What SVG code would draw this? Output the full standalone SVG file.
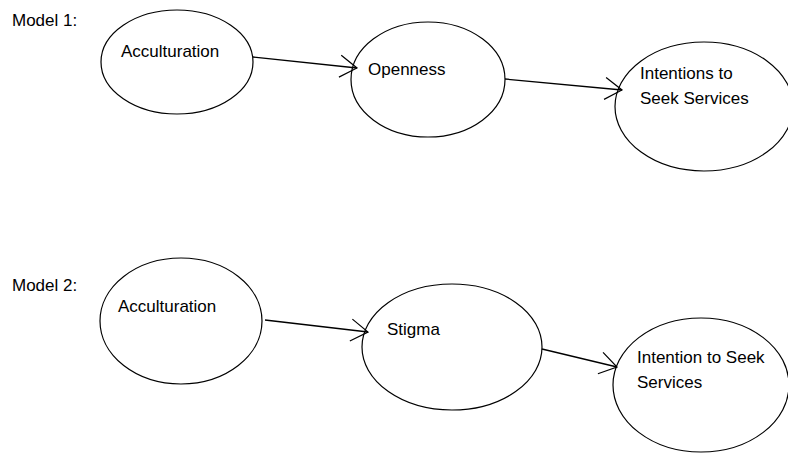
<svg xmlns="http://www.w3.org/2000/svg" width="788" height="453" viewBox="0 0 788 453">
<defs>
<style>
.node ellipse{fill:#fff;stroke:#000;stroke-width:1.2}
text{font-family:"Liberation Sans",Arial,sans-serif;font-size:17px;fill:#000}
.edge{stroke:#000;stroke-width:1.3;fill:none;marker-end:url(#open)}
</style>
<marker id="open" markerUnits="userSpaceOnUse" markerWidth="24" markerHeight="28" refX="0" refY="0" viewBox="-20 -14 24 28" orient="auto">
<path d="M -17 -11 L 0 0 L -17 11" fill="none" stroke="#000" stroke-width="1.2"/>
</marker>
</defs>
<rect width="788" height="453" fill="#fff"/>
<text x="12" y="26">Model 1:</text>
<text x="12" y="291">Model 2:</text>
<g id="n1-acculturation" class="node">
<ellipse cx="177" cy="62" rx="76" ry="52"/>
<text x="121" y="57">Acculturation</text>
</g>
<g id="n1-openness" class="node">
<ellipse cx="428" cy="79.5" rx="77" ry="57.5"/>
<text x="368" y="75">Openness</text>
</g>
<g id="n1-intentions" class="node">
<ellipse cx="704" cy="106.5" rx="89" ry="64.5"/>
<text x="640" y="79">Intentions to</text>
<text x="640" y="104">Seek Services</text>
</g>
<g id="n2-acculturation" class="node">
<ellipse cx="181" cy="321" rx="81" ry="63"/>
<text x="118" y="312">Acculturation</text>
</g>
<g id="n2-stigma" class="node">
<ellipse cx="452" cy="347" rx="90" ry="63"/>
<text x="387" y="335">Stigma</text>
</g>
<g id="n2-intention" class="node">
<ellipse cx="701" cy="385" rx="88" ry="67"/>
<text x="637" y="363">Intention to Seek</text>
<text x="637" y="388">Services</text>
</g>
<g id="connectors">
<path class="edge" d="M 253 57 L 357 68"/>
<path class="edge" d="M 505 79 L 622 90"/>
<path class="edge" d="M 265 320 L 368 332"/>
<path class="edge" d="M 542 349 L 617 367"/>
</g>
</svg>
